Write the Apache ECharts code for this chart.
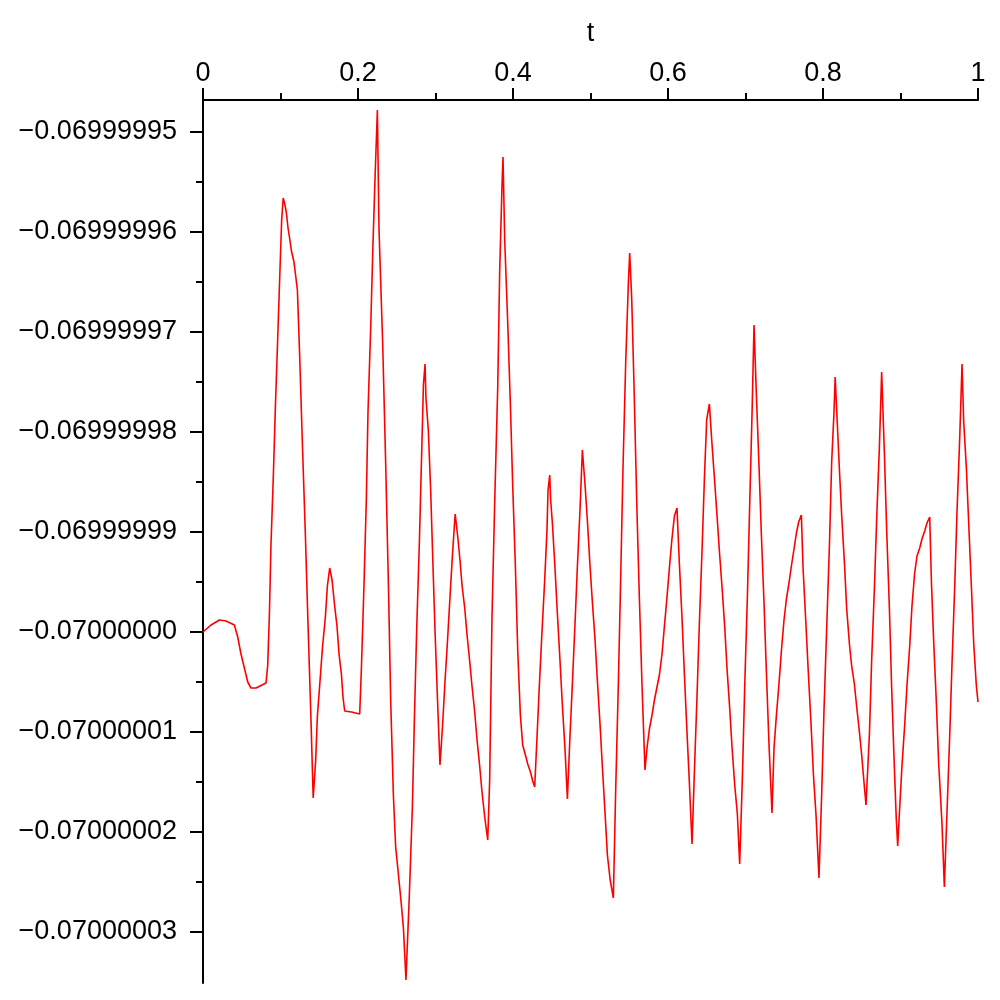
<!DOCTYPE html>
<html>
<head>
<meta charset="utf-8">
<script src="https://cdn.jsdelivr.net/npm/echarts@6/dist/echarts.min.js"></script>
<style>
html,body{margin:0;padding:0;background:#fff;}
#chart{width:1000px;height:1000px;}
</style>
</head>
<body>
<div id="chart"></div>
<script>
// t values (x)
const tValues = [
0,0.0103,0.0212,0.0297,0.0405,0.0448,0.0490,0.0534,0.0577,0.0619,
0.0684,0.0813,0.0835,0.0857,0.0877,0.0908,0.0934,0.0964,0.0994,0.1015,
0.1035,0.1058,0.1076,0.1097,0.1119,0.1141,0.1174,0.1218,0.1248,0.1283,
0.1321,0.1355,0.1390,0.1422,0.1454,0.1476,0.1506,0.1541,0.1579,0.1605,
0.1635,0.1665,0.1699,0.1729,0.1755,0.1786,0.1806,0.1828,0.1915,0.2022,
0.2044,0.2077,0.2108,0.2129,0.2164,0.2194,0.2219,0.2250,0.2271,0.2319,
0.2357,0.2392,0.2422,0.2457,0.2486,0.2521,0.2555,0.2586,0.2619,0.2663,
0.2702,0.2728,0.2757,0.2792,0.2822,0.2844,0.2865,0.2877,0.2908,0.2938,
0.2964,0.2994,0.3025,0.3058,0.3093,0.3123,0.3157,0.3187,0.3218,0.3244,
0.3254,0.3286,0.3316,0.3342,0.3377,0.3406,0.3441,0.3471,0.3506,0.3535,
0.3570,0.3600,0.3635,0.3674,0.3699,0.3729,0.3764,0.3803,0.3828,0.3858,
0.3871,0.3893,0.3932,0.3966,0.3996,0.4031,0.4061,0.4095,0.4125,0.4160,
0.4190,0.4225,0.4254,0.4280,0.4310,0.4341,0.4374,0.4409,0.4439,0.4452,
0.4474,0.4486,0.4508,0.4542,0.4573,0.4606,0.4637,0.4671,0.4702,0.4732,
0.4766,0.4800,0.4831,0.4865,0.4895,0.4929,0.4960,0.4994,0.5025,0.5058,
0.5089,0.5123,0.5154,0.5187,0.5218,0.5254,0.5295,0.5325,0.5360,0.5390,
0.5419,0.5454,0.5489,0.5506,0.5532,0.5561,0.5600,0.5631,0.5665,0.5703,
0.5729,0.5760,0.5794,0.5825,0.5858,0.5889,0.5923,0.5954,0.5987,0.6018,
0.6052,0.6083,0.6116,0.6147,0.6181,0.6212,0.6245,0.6276,0.6310,0.6341,
0.6374,0.6405,0.6439,0.6470,0.6499,0.6534,0.6564,0.6599,0.6632,0.6663,
0.6699,0.6732,0.6761,0.6796,0.6826,0.6861,0.6895,0.6925,0.6960,0.6990,
0.7025,0.7054,0.7084,0.7110,0.7141,0.7174,0.7205,0.7239,0.7270,0.7303,
0.7342,0.7368,0.7399,0.7432,0.7463,0.7497,0.7528,0.7561,0.7592,0.7626,
0.7657,0.7686,0.7721,0.7742,0.7777,0.7809,0.7845,0.7876,0.7910,0.7948,
0.7983,0.8013,0.8048,0.8083,0.8112,0.8142,0.8157,0.8186,0.8212,0.8241,
0.8276,0.8306,0.8341,0.8370,0.8405,0.8435,0.8470,0.8499,0.8532,0.8555,
0.8599,0.8628,0.8663,0.8693,0.8728,0.8757,0.8792,0.8822,0.8857,0.8886,
0.8921,0.8945,0.8964,0.8990,0.9019,0.9054,0.9084,0.9119,0.9148,0.9183,
0.9213,0.9248,0.9277,0.9312,0.9342,0.9377,0.9399,0.9428,0.9463,0.9493,
0.9535,0.9566,0.9600,0.9635,0.9665,0.9699,0.9729,0.9764,0.9794,0.9815,
0.9850,0.9880,0.9915,0.9945,0.9979,1.0
];
// curve values (y)
const yValues = [
-0.0700000000,-0.0699999993,-0.0699999988,-0.0699999989,-0.0699999993,-0.0700000005,-0.0700000022,-0.0700000036,-0.0700000050,-0.0700000056,
-0.0700000056,-0.0700000051,-0.0700000033,-0.0699999982,-0.0699999913,-0.0699999843,-0.0699999775,-0.0699999706,-0.0699999636,-0.0699999588,
-0.0699999566,-0.0699999573,-0.0699999581,-0.0699999596,-0.0699999607,-0.0699999619,-0.0699999630,-0.0699999658,-0.0699999725,-0.0699999813,
-0.0699999903,-0.0699999992,-0.0700000079,-0.0700000166,-0.0700000128,-0.0700000084,-0.0700000053,-0.0700000016,-0.0699999985,-0.0699999954,
-0.0699999936,-0.0699999948,-0.0699999974,-0.0699999994,-0.0700000022,-0.0700000042,-0.0700000065,-0.0700000079,-0.0700000080,-0.0700000082,
-0.0700000036,-0.0699999954,-0.0699999866,-0.0699999780,-0.0699999695,-0.0699999610,-0.0699999548,-0.0699999478,-0.0699999597,-0.0699999713,
-0.0699999831,-0.0699999951,-0.0700000069,-0.0700000164,-0.0700000215,-0.0700000242,-0.0700000269,-0.0700000296,-0.0700000348,-0.0700000262,
-0.0700000174,-0.0700000086,-0.0699999998,-0.0699999910,-0.0699999820,-0.0699999753,-0.0699999732,-0.0699999766,-0.0699999799,-0.0699999859,
-0.0699999925,-0.0699999999,-0.0700000066,-0.0700000133,-0.0700000091,-0.0700000049,-0.0700000006,-0.0699999965,-0.0699999924,-0.0699999893,
-0.0699999882,-0.0699999904,-0.0699999928,-0.0699999953,-0.0699999976,-0.0700000002,-0.0700000029,-0.0700000054,-0.0700000080,-0.0700000107,
-0.0700000134,-0.0700000160,-0.0700000185,-0.0700000208,-0.0700000148,-0.0699999985,-0.0699999870,-0.0699999755,-0.0699999640,-0.0699999554,
-0.0699999525,-0.0699999608,-0.0699999691,-0.0699999772,-0.0699999853,-0.0699999935,-0.0700000018,-0.0700000083,-0.0700000113,-0.0700000123,
-0.0700000132,-0.0700000140,-0.0700000149,-0.0700000155,-0.0700000105,-0.0700000052,-0.0700000000,-0.0699999948,-0.0699999897,-0.0699999858,
-0.0699999843,-0.0699999868,-0.0699999891,-0.0699999936,-0.0699999982,-0.0700000028,-0.0700000073,-0.0700000117,-0.0700000167,-0.0700000110,
-0.0700000052,-0.0699999992,-0.0699999934,-0.0699999877,-0.0699999818,-0.0699999852,-0.0699999889,-0.0699999934,-0.0699999971,-0.0700000007,
-0.0700000049,-0.0700000092,-0.0700000136,-0.0700000180,-0.0700000223,-0.0700000248,-0.0700000266,-0.0700000158,-0.0700000050,-0.0699999944,
-0.0699999837,-0.0699999731,-0.0699999650,-0.0699999621,-0.0699999667,-0.0699999752,-0.0699999880,-0.0699999967,-0.0700000054,-0.0700000138,
-0.0700000116,-0.0700000097,-0.0700000083,-0.0700000068,-0.0700000055,-0.0700000043,-0.0700000022,-0.0699999994,-0.0699999965,-0.0699999936,
-0.0699999906,-0.0699999884,-0.0699999876,-0.0699999932,-0.0699999986,-0.0700000043,-0.0700000100,-0.0700000151,-0.0700000212,-0.0700000139,
-0.0700000065,-0.0699999991,-0.0699999919,-0.0699999846,-0.0699999788,-0.0699999772,-0.0699999808,-0.0699999846,-0.0699999883,-0.0699999919,
-0.0699999957,-0.0699999995,-0.0700000036,-0.0700000076,-0.0700000115,-0.0700000153,-0.0700000182,-0.0700000232,-0.0700000145,-0.0700000054,
-0.0699999963,-0.0699999873,-0.0699999783,-0.0699999693,-0.0699999764,-0.0699999833,-0.0699999903,-0.0699999971,-0.0700000041,-0.0700000112,
-0.0700000181,-0.0700000116,-0.0700000083,-0.0700000052,-0.0700000019,-0.0699999988,-0.0699999967,-0.0699999951,-0.0699999934,-0.0699999917,
-0.0699999901,-0.0699999890,-0.0699999883,-0.0699999935,-0.0699999988,-0.0700000038,-0.0700000091,-0.0700000142,-0.0700000183,-0.0700000246,
-0.0700000162,-0.0700000078,-0.0699999995,-0.0699999913,-0.0699999830,-0.0699999780,-0.0699999745,-0.0699999794,-0.0699999838,-0.0699999883,
-0.0699999930,-0.0699999977,-0.0700000012,-0.0700000034,-0.0700000052,-0.0700000075,-0.0700000100,-0.0700000123,-0.0700000153,-0.0700000173,
-0.0700000102,-0.0700000028,-0.0699999957,-0.0699999886,-0.0699999814,-0.0699999740,-0.0699999821,-0.0699999899,-0.0699999977,-0.0700000056,
-0.0700000136,-0.0700000186,-0.0700000214,-0.0700000175,-0.0700000134,-0.0700000093,-0.0700000053,-0.0700000014,-0.0699999974,-0.0699999941,
-0.0699999924,-0.0699999916,-0.0699999907,-0.0699999899,-0.0699999891,-0.0699999885,-0.0699999950,-0.0700000009,-0.0700000071,-0.0700000132,
-0.0700000191,-0.0700000255,-0.0700000180,-0.0700000104,-0.0700000031,-0.0699999956,-0.0699999880,-0.0699999806,-0.0699999732,-0.0699999789,
-0.0699999836,-0.0699999891,-0.0699999955,-0.0700000012,-0.0700000054,-0.0700000070
];
// axis ticks and labels
const xTickValues = [0, 0.2, 0.4, 0.6, 0.8, 1];
const yTickValues = [-0.06999995, -0.06999996, -0.06999997, -0.06999998, -0.06999999, -0.07, -0.07000001, -0.07000002, -0.07000003];
const yMinorTickValues = [-0.069999955, -0.069999965, -0.069999975, -0.069999985, -0.069999995, -0.070000005, -0.070000015, -0.070000025];
const yMin = -0.0700000351;
const yMax = -0.0699999468;

const FONT = "'Liberation Sans', Arial, sans-serif";
const chart = echarts.init(document.getElementById('chart'), null, {renderer: 'canvas'});
const data = tValues.map((t, i) => [t, yValues[i]]);
const axisLineStyle = {color: '#000', width: 2};

chart.setOption({
  animation: false,
  backgroundColor: '#fff',
  grid: {left: 203, right: 22, top: 100, bottom: 17, containLabel: false},
  xAxis: {
    type: 'value', position: 'top', min: 0, max: 1, interval: 0.2,
    name: 't', nameLocation: 'middle', nameGap: 53,
    nameTextStyle: {fontFamily: FONT, fontSize: 27, color: '#000'},
    axisLine: {show: true, onZero: false, lineStyle: axisLineStyle},
    axisTick: {show: true, inside: false, length: 12, customValues: xTickValues, lineStyle: axisLineStyle},
    minorTick: {show: true, splitNumber: 2, length: 7, lineStyle: axisLineStyle},
    splitLine: {show: false},
    axisLabel: {
      show: true, margin: 13, fontFamily: FONT, fontSize: 27, color: '#000',
      customValues: xTickValues,
      formatter: v => String(v).replace('-', '\u2212')
    }
  },
  yAxis: [{
    type: 'value', position: 'left', min: yMin, max: yMax,
    axisLine: {show: true, onZero: false, lineStyle: axisLineStyle},
    axisTick: {show: true, inside: false, length: 13, customValues: yTickValues, lineStyle: axisLineStyle},
    splitLine: {show: false},
    axisLabel: {
      show: true, margin: 26, fontFamily: FONT, fontSize: 27, color: '#000',
      customValues: yTickValues,
      formatter: v => v.toFixed(8).replace('-', '\u2212')
    }
  }, {
    type: 'value', position: 'left', min: yMin, max: yMax,
    axisLine: {show: false},
    axisTick: {show: true, inside: false, length: 7, customValues: yMinorTickValues, lineStyle: axisLineStyle},
    splitLine: {show: false},
    axisLabel: {show: false}
  }],
  series: [{
    type: 'line', data: data, yAxisIndex: 0,
    showSymbol: false, symbol: 'none',
    lineStyle: {color: '#ff0000', width: 1.6},
    clip: true
  }]
});
</script>
</body>
</html>
